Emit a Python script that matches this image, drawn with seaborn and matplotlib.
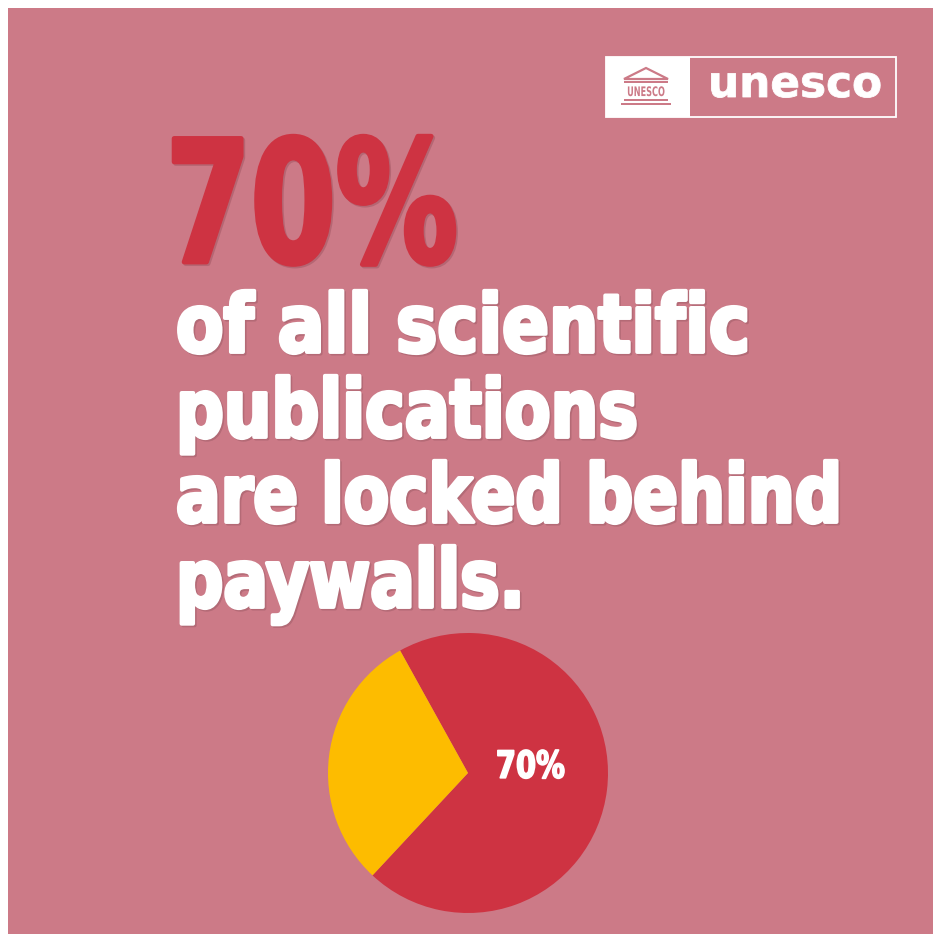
import matplotlib
matplotlib.use("Agg")
import matplotlib.pyplot as plt
import seaborn as sns
from matplotlib.patheffects import AbstractPathEffect
from matplotlib.transforms import Affine2D
from matplotlib.patches import Rectangle, Polygon

# ---------------- data ----------------
categories = ["Locked behind paywalls", "Open access"]
shares = [70, 30]
headline_value = "70%"
headline_lines = ["of all scientific", "publications", "are locked behind", "paywalls."]
brand = "unesco"

# ---------------- style ----------------
PINK = "#CC7A87"
RED = "#CE3342"
YELLOW = "#FDBC00"
WHITE = "#FFFFFF"
slice_colors = [RED, YELLOW]

sns.set_theme(style="white")
plt.rcParams["font.family"] = ["DejaVu Sans"]

W, H = 933, 934
fig = plt.figure(figsize=(W / 100, H / 100), dpi=100, facecolor="white")


def fx(px):
    return px / W


def fy(py):
    return 1 - py / H


class Tall(AbstractPathEffect):
    """Stretch glyphs vertically around y0 (display px), with an optional soft shadow."""

    def __init__(self, sy=1.0, y0=0.0, shadow=None, shadow_offset=(1.6, -1.6), alpha=0.15, stroke=0.0):
        super().__init__()
        self.sy, self.y0 = sy, y0
        self.shadow = shadow
        self.shadow_offset = shadow_offset
        self.alpha = alpha
        self.stroke = stroke

    def draw_path(self, renderer, gc, tpath, affine, rgbFace=None):
        stretch = Affine2D().translate(0, -self.y0).scale(1, self.sy).translate(0, self.y0)
        base = affine + stretch
        if self.shadow is not None:
            gc0 = renderer.new_gc()
            gc0.copy_properties(gc)
            gc0.set_foreground(self.shadow)
            gc0.set_alpha(self.alpha)
            gc0.set_linewidth(self.stroke)
            gc0.set_joinstyle("round")
            sh = base + Affine2D().translate(*self.shadow_offset)
            renderer.draw_path(gc0, tpath, sh, matplotlib.colors.to_rgba(self.shadow))
            gc0.restore()
        gc1 = renderer.new_gc()
        gc1.copy_properties(gc)
        if self.stroke > 0 and rgbFace is not None:
            gc1.set_foreground(rgbFace)
            gc1.set_linewidth(self.stroke)
            gc1.set_joinstyle("round")
        renderer.draw_path(gc1, tpath, base, rgbFace)
        gc1.restore()


# ---------------- background ----------------
fig.add_artist(Rectangle((fx(8), 0), 1 - fx(8), fy(8), transform=fig.transFigure,
                         facecolor=PINK, edgecolor="none", zorder=0))

# ---------------- logo ----------------
fig.add_artist(Rectangle((fx(606), fy(117)), 290 / W, 60 / H, transform=fig.transFigure,
                         facecolor="none", edgecolor=WHITE, lw=1.3, zorder=2))
fig.add_artist(Rectangle((fx(606), fy(117)), 84 / W, 60 / H, transform=fig.transFigure,
                         facecolor=WHITE, edgecolor="none", zorder=2))
fig.add_artist(Polygon([(fx(624), fy(79)), (fx(668), fy(79)), (fx(646), fy(68))],
                       closed=True, transform=fig.transFigure, facecolor="none",
                       edgecolor=PINK, lw=1.6, zorder=3))
fig.add_artist(Rectangle((fx(624), fy(83)), 44 / W, 2.2 / H, transform=fig.transFigure,
                         facecolor=PINK, edgecolor="none", zorder=3))
for yy, x0, w in [(101, 624, 44), (105, 621, 50)]:
    fig.add_artist(Rectangle((fx(x0), fy(yy)), w / W, 2.2 / H, transform=fig.transFigure,
                             facecolor=PINK, edgecolor="none", zorder=3))
logo_small = fig.text(fx(646), fy(92), "UNESCO", color=PINK, fontsize=9.5, fontweight="bold",
                      ha="center", va="center", zorder=4)
logo_word = fig.text(fx(708), fy(97), brand, color=WHITE, fontsize=31, fontweight="bold",
                     ha="left", va="baseline", zorder=4)

# ---------------- headline ----------------
big = fig.text(fx(166), fy(262), headline_value, color=RED, fontsize=122,
               fontweight="bold", ha="left", va="baseline", zorder=3)
line_texts = []
for i, s in enumerate(headline_lines):
    t = fig.text(fx(176), fy(352 + 85 * i), s, color=WHITE, fontsize=58,
                 fontweight="bold", ha="left", va="baseline", zorder=3)
    line_texts.append(t)

# ---------------- pie ----------------
ax = fig.add_axes([fx(328), fy(913), 280 / W, 280 / H])
ax.set_facecolor("none")
wedges, labels, autotexts = ax.pie(
    shares, colors=slice_colors, startangle=227, counterclock=True,
    autopct=lambda p: f"{p:.0f}%" if p > 50 else "", pctdistance=0.45,
    wedgeprops=dict(linewidth=0),
    textprops=dict(color=WHITE, fontsize=27, fontweight="bold"))
ax.set_xlim(-1, 1)
ax.set_ylim(-1, 1)
ax.axis("off")
autotexts[0].set_position((0.445, 0.04))
autotexts[0].set_va("center")

# ---------------- fit widths: shrink font to width, stretch glyphs back to height ----------------
fits = [
    (big, 292, "#5a1a25", 0.2, 3.5),
    (line_texts[0], 574, "#3a1a20", 0.16, 2.8),
    (line_texts[1], 462, "#3a1a20", 0.16, 2.8),
    (line_texts[2], 666, "#3a1a20", 0.16, 2.8),
    (line_texts[3], 349, "#3a1a20", 0.16, 2.8),
    (autotexts[0], 69, None, 0.0, 1.2),
    (logo_word, 174, None, 0.0, 0.6),
    (logo_small, 38, None, 0.0, 0.0),
]
orig_sizes = {id(t): t.get_fontsize() for t, *_ in fits}

fig.canvas.draw()
renderer = fig.canvas.get_renderer()
for t, target, *_ in fits:
    bb = t.get_window_extent(renderer)
    t.set_fontsize(t.get_fontsize() * target / bb.width)

fig.canvas.draw()
for t, target, shadow, alpha, stroke in fits:
    bb = t.get_window_extent(renderer)
    if t.get_va() == "baseline":
        y0 = t.get_transform().transform(t.get_position())[1]
    else:
        y0 = (bb.y0 + bb.y1) / 2
    sy = orig_sizes[id(t)] / t.get_fontsize()
    t.set_path_effects([Tall(sy=sy, y0=y0, shadow=shadow, alpha=alpha, stroke=stroke)])

fig.savefig("out.png", dpi=100, facecolor=fig.get_facecolor())
